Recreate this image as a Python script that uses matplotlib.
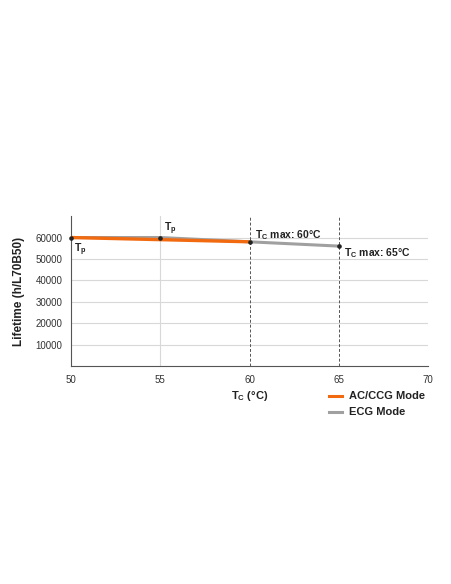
import matplotlib
matplotlib.use('Agg')
import matplotlib.pyplot as plt

# --- data ---
tc_ecg = [50, 55, 60, 65]
life_ecg = [60000, 60000, 58000, 56000]
tc_ac = [50, 60]
life_ac = [60000, 58000]
y_ticks = [10000, 20000, 30000, 40000, 50000, 60000]
x_ticks = [50, 55, 60, 65, 70]

ORANGE = '#f26a10'
GRAY = '#a0a0a0'
DARK = '#222222'

plt.rcParams['font.family'] = ['Liberation Sans', 'DejaVu Sans']
plt.rcParams['mathtext.fontset'] = 'custom'
plt.rcParams['mathtext.rm'] = 'Liberation Sans'
plt.rcParams['mathtext.bf'] = 'Liberation Sans:bold'

fig = plt.figure(figsize=(4.52, 5.84), dpi=100)
ax = fig.add_axes([0.157, 0.373, 0.790, 0.257])

ax.set_xlim(50, 70)
ax.set_ylim(0, 70000)
ax.set_xticks(x_ticks)
ax.set_yticks(y_ticks)
ax.tick_params(labelsize=7, length=0, colors='#333333', pad=6)

# grid
for y in y_ticks:
    ax.axhline(y, color='#d8d8d8', lw=0.8, zorder=0)
ax.axvline(55, color='#d8d8d8', lw=0.8, zorder=0)
ax.axvline(60, color='#555555', lw=0.7, ls=(0, (3, 2)), zorder=1)
ax.axvline(65, color='#555555', lw=0.7, ls=(0, (3, 2)), zorder=1)

for s in ['top', 'right']:
    ax.spines[s].set_visible(False)
for s in ['left', 'bottom']:
    ax.spines[s].set_color('#555555')
    ax.spines[s].set_linewidth(0.8)

ax.plot(tc_ecg, life_ecg, color=GRAY, lw=2.2, zorder=2, solid_capstyle='butt')
ax.plot(tc_ac, life_ac, color=ORANGE, lw=2.4, zorder=3, solid_capstyle='butt')
ax.plot(tc_ecg, life_ecg, 'o', color=DARK, ms=2.3, zorder=4, clip_on=False)

kw = dict(fontsize=7.5, fontweight='bold', color=DARK)
ax.annotate('T$_\\mathbf{p}$', (50, 60000), xytext=(2, -9), textcoords='offset points', va='center', **kw)
ax.annotate('T$_\\mathbf{p}$', (55, 60000), xytext=(3, 6), textcoords='offset points', va='center', **kw)
ax.annotate('T$_\\mathbf{C}$ max: 60°C', (60, 58000), xytext=(4, 5), textcoords='offset points', va='center', **kw)
ax.annotate('T$_\\mathbf{C}$ max: 65°C', (65, 56000), xytext=(4, -5), textcoords='offset points', va='center', **kw)

ax.set_ylabel('Lifetime (h/L70B50)', fontsize=8.5, fontweight='bold', color=DARK, labelpad=8)
fig.text(0.512, 0.322, 'T$_\\mathbf{C}$ (°C)', fontsize=8, fontweight='bold', color=DARK, va='center')

# legend
fig.lines.append(plt.Line2D([0.727, 0.757], [0.322, 0.322], color=ORANGE, lw=2.2, transform=fig.transFigure))
fig.lines.append(plt.Line2D([0.727, 0.757], [0.294, 0.294], color=GRAY, lw=2.2, transform=fig.transFigure))
fig.text(0.773, 0.322, 'AC/CCG Mode', fontsize=8, fontweight='bold', color=DARK, va='center')
fig.text(0.773, 0.294, 'ECG Mode', fontsize=8, fontweight='bold', color=DARK, va='center')

fig.savefig('out.png', dpi=100)
